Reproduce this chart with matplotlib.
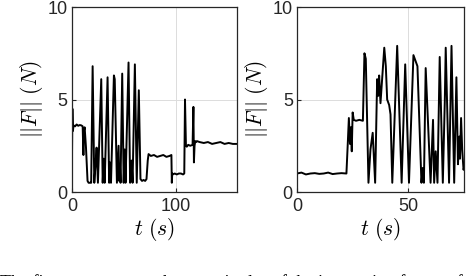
import matplotlib
matplotlib.use("Agg")
import matplotlib.pyplot as plt

plt.rcParams['mathtext.fontset'] = 'cm'
plt.rcParams['font.family'] = ['Liberation Sans', 'DejaVu Sans']

# left trace
t_left = [0, 0.4, 0.9, 1.5, 3, 4.5, 6, 7.5, 9, 10.3, 11.0, 11.5, 12.2, 13.5, 15.0, 16.0, 17.2, 18.5,
          19.9, 21.5, 22.8, 23.7, 25.0, 28.2, 29.6, 30.6, 31.5, 34.3, 35.8, 36.6, 37.6,
          40.4, 41.2, 43.3, 44.9, 45.5, 46.2, 46.8, 48.4, 49.8, 50.8, 51.6, 54.5, 56.0,
          57.4, 58.4, 60.6, 62.4, 64.4, 66.0, 67.5, 69, 70.5, 71.8, 73.0, 73.8, 76, 79, 82, 85,
          88, 91, 94, 95.8, 96.2, 96.6, 97.0, 99, 101, 103, 105, 107, 108.2, 108.9, 109.8,
          110.6, 112, 114, 116.2, 117.0, 117.5, 118.1, 118.8, 119.6, 120.5, 123, 127, 131,
          135, 139, 143, 147, 151, 155, 160]
F_left = [1.8, 4.5, 3.3, 3.6, 3.55, 3.65, 3.58, 3.62, 3.6, 3.55, 2.0, 3.3, 3.5, 2.4, 0.6, 0.5, 0.5, 0.5,
          6.8, 0.5, 1.6, 2.4, 0.5, 6.1, 0.5, 1.8, 0.5, 6.2, 0.5, 1.6, 0.5,
          6.3, 6.1, 0.5, 2.5, 0.6, 1.5, 0.5, 6.4, 0.5, 2.3, 0.5, 7.0, 0.5,
          1.7, 0.5, 6.9, 0.5, 5.5, 0.7, 0.6, 0.65, 0.6, 0.7, 1.7, 2.05, 1.95, 2.0, 1.9, 1.95,
          2.0, 1.9, 1.95, 2.0, 0.5, 1.0, 0.95, 1.0, 0.95, 1.0, 1.0, 0.95, 1.0, 5.0, 2.5,
          2.45, 2.55, 2.5, 2.55, 4.6, 1.6, 2.5, 2.75, 2.7, 2.75, 2.7, 2.65, 2.7,
          2.6, 2.65, 2.7, 2.6, 2.65, 2.6, 2.6]

# right trace
t_right = [0, 2, 4, 6, 8, 10, 12, 14, 16, 18, 20, 22.2, 22.8, 23.3, 23.8, 24.2, 24.6, 25.0, 25.5,
           26.5, 28, 29.6, 30.3, 30.9, 32.1, 33.0, 34.0, 35.1, 36.0, 36.5, 36.9, 37.5, 39.2,
           39.9, 40.5, 41.4, 42.0, 42.8, 45.0, 47.0, 48.6, 50.3, 52.3, 53.5, 54.1, 55.9, 56.5,
           57.0, 57.8, 60.0, 61.1, 61.6, 62.3, 63.1, 64.1, 65.5, 66.4, 66.8, 68.3, 69.4, 70.6,
           71.6, 72.3, 72.9, 73.2, 73.7, 74.2, 74.8, 75]
F_right = [1.0, 1.05, 0.95, 1.0, 1.02, 0.98, 1.0, 1.05, 0.97, 1.0, 1.02, 1.0, 2.6, 4.0, 2.6, 3.5, 2.2, 4.3, 3.9,
           3.85, 3.9, 3.85, 7.5, 7.2, 0.5, 2.3, 3.2, 0.5, 6.1, 5.2, 6.3, 4.8, 7.8,
           6.8, 5.0, 4.7, 4.2, 0.5, 7.9, 0.5, 6.9, 0.5, 7.4, 7.0, 6.8, 0.5, 1.3,
           0.5, 6.7, 0.5, 3.9, 0.5, 2.2, 0.5, 7.3, 0.5, 5.0, 7.8, 0.5, 7.9, 0.5,
           6.2, 1.5, 3.0, 1.8, 4.0, 2.3, 1.2, 1.3]

x_ticks_left = [0, 100]
x_ticks_right = [0, 50]
y_ticks = [0, 5, 10]

caption = "The figures represent the magnitudes of the interaction forces of"


def style_axes(ax, xlim, xticks):

    ax.set_xlim(0, xlim)
    ax.set_ylim(0, 10)
    ax.set_xticks(xticks)
    ax.set_yticks(y_ticks)
    ax.grid(True, color = "#dcdcdc", linewidth = 0.7)
    ax.set_axisbelow(True)
    ax.tick_params(direction = "in", length = 3, labelsize = 13, colors = "#262626")
    ax.tick_params(axis = "x", pad = 4)
    ax.tick_params(axis = "y", pad = 3)
    for s in ax.spines.values():
        s.set_color("#262626")
        s.set_linewidth(0.9)
    ax.set_xlabel(r"$t\ (s)$", fontsize = 15.5, labelpad = 1)
    ax.set_ylabel(r"$||F||\ (N)$", fontsize = 15.5, labelpad = 2)


fig = plt.figure(figsize = (4.68, 2.76), dpi = 100)

ax1 = fig.add_axes([0.1538, 0.3043, 0.3526, 0.6703])
ax1.plot(t_left, F_left, color = "black", linewidth = 1.4)
style_axes(ax1, 159, x_ticks_left)

ax2 = fig.add_axes([0.6346, 0.3043, 0.3568, 0.6703])
ax2.plot(t_right, F_right, color = "black", linewidth = 1.4)
style_axes(ax2, 75, x_ticks_right)

fig.text(0.0, -0.045, caption, fontsize = 13, family = "Liberation Serif", ha = "left", va = "baseline")

fig.savefig("out.png", dpi = 100)
